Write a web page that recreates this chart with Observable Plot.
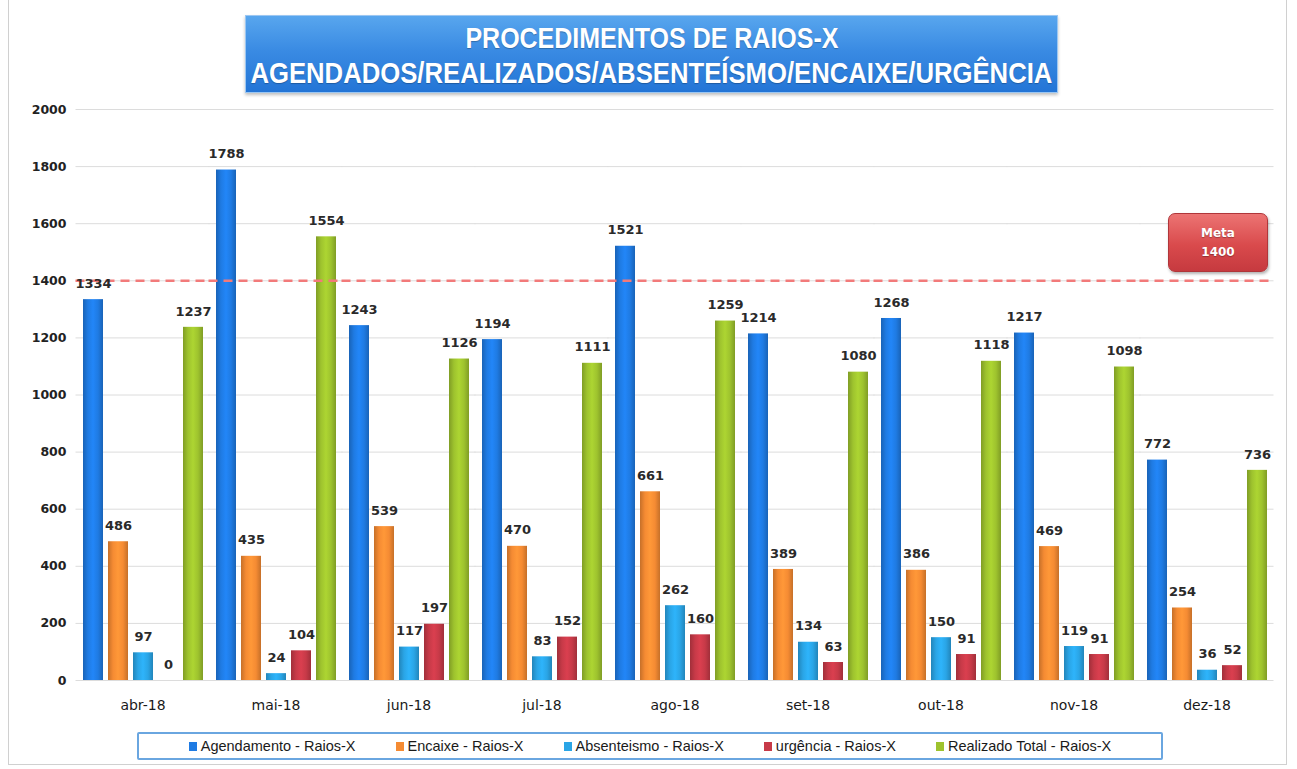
<!DOCTYPE html>
<html>
<head>
<meta charset="utf-8">
<script src="https://cdn.jsdelivr.net/npm/d3@7"></script>
<script src="https://cdn.jsdelivr.net/npm/@observablehq/plot@0.6"></script>
<style>
  html, body { margin: 0; padding: 0; background: #fff; }
  #wrap { position: relative; width: 1297px; height: 769px; overflow: hidden; background: #fff; }
  #frame { position: absolute; left: 8px; top: -2px; width: 1279px; height: 767px; border: 1px solid #d0d0d0; box-sizing: border-box; }
  #chart { position: absolute; left: 0; top: 0; }
  #title { position: absolute; left: 245px; top: 15px; width: 813px; height: 78px; box-sizing: border-box;
    background: linear-gradient(to bottom, #58a6ee 0%, #3a8be3 45%, #2375d6 100%);
    border: 1px solid #9cc7f2; box-shadow: 0 2px 3px rgba(0,0,0,0.25);
    color: #fff; font-family: "Liberation Sans Narrow", "Liberation Sans", sans-serif; font-weight: bold; font-size: 30px;
    text-shadow: 0 1px 1px rgba(0,0,0,0.25); }
  #title .line { position: absolute; left: 0; width: 100%; display: flex; justify-content: center; line-height: 1; white-space: nowrap; }
  #title .line span { display: inline-block; flex: none; transform-origin: center; }
  #meta { position: absolute; left: 1168px; top: 213px; width: 100px; height: 59px; box-sizing: border-box;
    background: linear-gradient(to bottom, #ec7473 0%, #d94a4c 55%, #c63a3f 100%);
    border: 1px solid #b0363a; border-radius: 7px; box-shadow: 1px 2px 3px rgba(0,0,0,0.3);
    color: #fff; font-family: "DejaVu Sans", sans-serif; font-weight: bold; font-size: 12px; text-align: center;
    display: flex; flex-direction: column; justify-content: center; line-height: 19px; text-shadow: 0 1px 1px rgba(0,0,0,0.3); }
  #legend { position: absolute; left: 137px; top: 732px; width: 1026px; height: 28px; box-sizing: border-box;
    border: 2px solid #6aa6e0; border-radius: 2px; display: flex; align-items: center; justify-content: center; gap: 40px;
    font-family: "Liberation Sans", sans-serif; font-size: 14.5px; color: #1a1a1a; }
  #legend .item { display: flex; align-items: center; white-space: nowrap; }
  #legend .sw { width: 8px; height: 9px; margin-right: 4px; }
</style>
</head>
<body>
<div id="wrap">
  <div id="frame"></div>
  <div id="chart"></div>
  <div id="title">
    <div class="line" style="top:7px"><span id="t1">PROCEDIMENTOS DE RAIOS-X</span></div>
    <div class="line" style="top:42px"><span id="t2">AGENDADOS/REALIZADOS/ABSENTEÍSMO/ENCAIXE/URGÊNCIA</span></div>
  </div>
  <div id="meta"><div>Meta</div><div>1400</div></div>
  <div id="legend"></div>
</div>
<script>
// ---- Data ----
const months = ["abr-18","mai-18","jun-18","jul-18","ago-18","set-18","out-18","nov-18","dez-18"];
const seriesNames = ["Agendamento - Raios-X","Encaixe - Raios-X","Absenteismo - Raios-X","urgência - Raios-X","Realizado Total - Raios-X"];
const agendamento = [1334,1788,1243,1194,1521,1214,1268,1217,772];
const encaixe     = [486,435,539,470,661,389,386,469,254];
const absenteismo = [97,24,117,83,262,134,150,119,36];
const urgencia    = [0,104,197,152,160,63,91,91,52];
const realizado   = [1237,1554,1126,1111,1259,1080,1118,1098,736];
const meta = 1400;
const yTicks = [0,200,400,600,800,1000,1200,1400,1600,1800,2000];
const seriesColors = ["#1f7be3","#f58b33","#2aa5e6","#c73a48","#9ec32e"];

const seriesValues = [agendamento, encaixe, absenteismo, urgencia, realizado];
const data = [];
months.forEach((m, i) => {
  seriesNames.forEach((s, j) => data.push({month: m, series: s, value: seriesValues[j][i]}));
});

const gradIds = seriesNames.map((_, i) => `barGrad${i}`);

// rules are drawn in every facet; negative insets bridge the gaps between month groups
const bridge = -4.5;

const chart = Plot.plot({
  width: 1297,
  height: 722,
  marginTop: 109,
  marginBottom: 42,
  marginLeft: 75,
  marginRight: 22,
  style: {fontFamily: "DejaVu Sans, sans-serif", fontSize: "13px", background: "transparent", color: "#1a1a1a"},
  y: {domain: [0, 2000], ticks: yTicks, tickSize: 0, tickPadding: 14, label: null, tickFormat: d => String(d)},
  fx: {domain: months, paddingInner: 0.06, paddingOuter: 0.03, label: null, tickSize: 0, tickPadding: 20, axis: "bottom"},
  x: {domain: seriesNames, paddingInner: 0.2, paddingOuter: 0.1, axis: null},
  color: {domain: seriesNames, range: gradIds.map(id => `url(#${id})`)},
  marks: [
    Plot.ruleY(yTicks, {stroke: "#dcdcdc", strokeWidth: 1, insetLeft: bridge, insetRight: bridge}),
    Plot.barY(data, {fx: "month", x: "series", y: "value", fill: "series"}),
    Plot.ruleY([meta], {stroke: "#f27a7a", strokeWidth: 2.5, strokeDasharray: "9,6", insetLeft: bridge, insetRight: bridge}),
    Plot.text(data, {fx: "month", x: "series", y: "value", text: d => String(d.value), dy: -16,
      fontWeight: "bold", fontSize: 13, fill: "#2a2a2a"})
  ]
});

// gradient defs for a cylindrical look
const svg = d3.select(chart);
const defs = svg.insert("defs", ":first-child");
seriesColors.forEach((c, i) => {
  const base = d3.color(c);
  const g = defs.append("linearGradient").attr("id", gradIds[i]).attr("x1", "0").attr("x2", "1").attr("y1", "0").attr("y2", "0");
  g.append("stop").attr("offset", "0%").attr("stop-color", base.darker(0.6).formatHex());
  g.append("stop").attr("offset", "25%").attr("stop-color", base.formatHex());
  g.append("stop").attr("offset", "50%").attr("stop-color", base.brighter(0.25).formatHex());
  g.append("stop").attr("offset", "75%").attr("stop-color", base.formatHex());
  g.append("stop").attr("offset", "100%").attr("stop-color", base.darker(0.6).formatHex());
});
svg.selectAll("[aria-label='fx-axis tick label']").style("font-size", "14px").style("fill", "#1a1a1a");
svg.selectAll("[aria-label='y-axis tick label']").style("font-size", "12.5px").style("font-weight", "bold").style("fill", "#222");

document.getElementById("chart").appendChild(chart);

// legend
const legend = document.getElementById("legend");
seriesNames.forEach((s, i) => {
  const item = document.createElement("div");
  item.className = "item";
  const sw = document.createElement("div");
  sw.className = "sw";
  sw.style.background = seriesColors[i];
  const lb = document.createElement("span");
  lb.textContent = s;
  item.appendChild(sw); item.appendChild(lb);
  legend.appendChild(item);
});

// fit title lines to reference widths
function fit(id, target) {
  const el = document.getElementById(id);
  const w = el.getBoundingClientRect().width;
  if (w > 0) el.style.transform = `scaleX(${target / w})`;
}
fit("t1", 373);
fit("t2", 802);
</script>
</body>
</html>
